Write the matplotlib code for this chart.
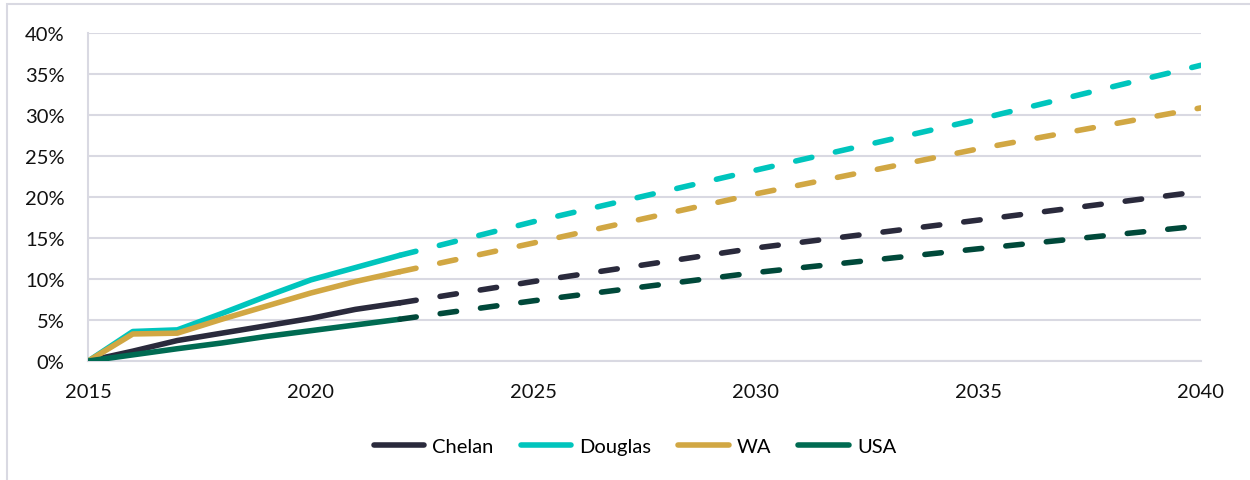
import matplotlib
matplotlib.use("Agg")
import matplotlib.pyplot as plt
from matplotlib.patches import Rectangle
from matplotlib.ticker import FuncFormatter, MultipleLocator

plt.rcParams["font.family"] = ["Lato", "DejaVu Sans"]
plt.rcParams["lines.scale_dashes"] = False

# Cumulative population change since 2015 (share)
series = ["Chelan", "Douglas", "WA", "USA"]
obs_years = [2015, 2016, 2017, 2018, 2019, 2020, 2021, 2022]
proj_years = [2022, 2025, 2030, 2035, 2040]

chelan_obs = [0.0, 1.2, 2.5, 3.4, 4.3, 5.2, 6.3, 7.1]
douglas_obs = [0.0, 3.6, 3.8, 5.8, 7.9, 9.9, 11.4, 12.9]
wa_obs = [0.0, 3.3, 3.4, 5.1, 6.7, 8.3, 9.7, 10.9]
usa_obs = [0.0, 0.75, 1.5, 2.2, 3.0, 3.7, 4.4, 5.1]

chelan_proj = [7.1, 9.7, 13.8, 17.2, 20.7]
douglas_proj = [12.9, 17.0, 23.3, 29.5, 36.1]
wa_proj = [10.9, 14.4, 20.4, 25.9, 30.9]
usa_proj = [5.1, 7.35, 10.8, 13.7, 16.5]

obs = [chelan_obs, douglas_obs, wa_obs, usa_obs]
proj = [chelan_proj, douglas_proj, wa_proj, usa_proj]
solid_colors = ["#2a2a3c", "#00c5bd", "#d1a743", "#006b52"]
dash_colors = ["#2a2a3c", "#00c5bd", "#d1a743", "#00493a"]

W, H = 1250, 481
fig = plt.figure(figsize=(W / 100, H / 100), dpi=100)

# outer chart frame
fig.patches.append(Rectangle((7 / W, -0.1), 1.2, 1 - 5 / H + 0.1,
                             transform=fig.transFigure, fill=False,
                             edgecolor="#d9d9e2", linewidth=1.5, zorder=0))

left, right = 88.3 / W, 1201 / W
bottom, top = 1 - 362 / H, 1 - 34.3 / H
ax = fig.add_axes([left, bottom, right - left, top - bottom])

grid_c = "#d9d9e2"
lw = 4.0
handles = []
for name, o, cs in zip(series, obs, solid_colors):
    h, = ax.plot(obs_years, [v / 100 for v in o], color=cs, lw=lw,
                 solid_capstyle="round", solid_joinstyle="round", label=name,
                 zorder=3)
    handles.append(h)
for p, cd in zip(proj, dash_colors):
    ax.plot(proj_years, [v / 100 for v in p], color=cd, lw=lw,
            dashes=(11.9, 17.4), dash_capstyle="round", zorder=4)

ax.set_xlim(2015, 2040)
ax.set_ylim(0, 0.40)
ax.xaxis.set_major_locator(MultipleLocator(5))
ax.yaxis.set_major_locator(MultipleLocator(0.05))
ax.yaxis.set_major_formatter(FuncFormatter(lambda v, _: f"{v * 100:.0f}%"))
ax.grid(axis="y", color=grid_c, lw=1.5, zorder=0)
ax.set_axisbelow(True)
for s in ["top", "right"]:
    ax.spines[s].set_visible(False)
for s in ["left", "bottom"]:
    ax.spines[s].set_color(grid_c)
    ax.spines[s].set_linewidth(1.5)
ax.tick_params(axis="both", length=0, labelsize=14.5, labelcolor="#111111")
ax.tick_params(axis="y", pad=17)
ax.tick_params(axis="x", pad=16)

fig.legend(handles=handles, loc="center", ncol=4, frameon=False,
           bbox_to_anchor=(635 / W, 1 - 447 / H), fontsize=14.5,
           handlelength=2.5, handletextpad=0.4, columnspacing=1.35)

fig.savefig("out.png", dpi=100)
